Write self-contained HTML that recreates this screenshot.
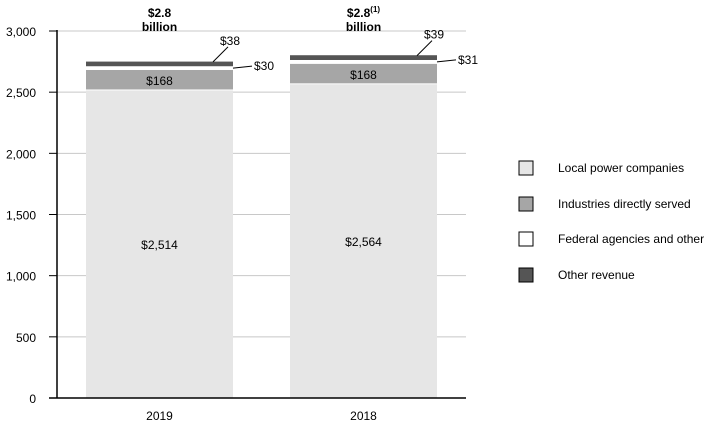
<!DOCTYPE html>
<html><head><meta charset="utf-8"><style>
body{margin:0;background:#fff;}
svg text{font-family:"Liberation Sans",Arial,sans-serif;fill:#000;}
</style></head><body>
<svg width="718" height="427" viewBox="0 0 718 427">
<g id="grid"></g><g id="bars"></g><g id="labels"></g>
<line x1="57" y1="30" x2="57" y2="398" stroke="#000" stroke-width="1.5"/>
<line x1="49" y1="398" x2="466" y2="398" stroke="#000" stroke-width="1.5"/>
<g>
<g><rect x="519" y="161" width="14" height="14" fill="#e6e6e6" stroke="#000"/><text x="558" y="172" font-size="12">Local power companies</text></g>
<g><rect x="519" y="197" width="14" height="14" fill="#a6a6a6" stroke="#000"/><text x="558" y="208" font-size="12">Industries directly served</text></g>
<g><rect x="519" y="232" width="14" height="14" fill="#fff" stroke="#000"/><text x="558" y="243" font-size="12">Federal agencies and other</text></g>
<g><rect x="519" y="268" width="14" height="14" fill="#555" stroke="#000"/><text x="558" y="279" font-size="12">Other revenue</text></g>
</g>
</svg>
<script>
const categories=["2019","2018"];
const localPower=[2514,2564];
const industries=[168,168];
const federal=[30,31];
const other=[38,39];
const yTicks=[0,500,1000,1500,2000,2500,3000];
const tickLabels=["0","500","1,000","1,500","2,000","2,500","3,000"];
const totals=["$2.8","$2.8"];
const NS="http://www.w3.org/2000/svg";
const y=v=>398-v*367/3000;
const barX=i=>86+i*204, barW=147;
function mk(tag,attrs,parent,txt){const e=document.createElementNS(NS,tag);for(const k in attrs)e.setAttribute(k,attrs[k]);if(txt!==undefined)e.textContent=txt;parent.appendChild(e);return e;}
const grid=document.getElementById('grid'),bars=document.getElementById('bars'),labels=document.getElementById('labels');
yTicks.forEach((t,i)=>{
 if(t>0){const g=mk('line',{x1:57,x2:466,y1:y(t),y2:y(t),stroke:'#c8c8c8'},grid);
 
 }
 const tk=mk('line',{x1:49,x2:57,y1:y(t),y2:y(t),stroke:'#000'},grid);
 
 
 const l=mk('text',{x:36,y:y(t)+5,'font-size':12,'text-anchor':'end'},grid,tickLabels[i]);
 
 
});
const series=[[localPower,'#e6e6e6','bar-local-power',0],[industries,'#a6a6a6','bar-industries',1],[federal,'#ffffff','bar-federal',0],[other,'#555555','bar-other',0]];
categories.forEach((c,i)=>{
 let base=0;const x=barX(i),cx=x+barW/2;
 series.forEach(([arr,col,name,gap])=>{
  const top=base+arr[i];
  const r=mk('rect',{x:x,y:y(top),width:barW,height:Math.max(0,y(base)-y(top)-gap),fill:col},bars);
  
  
  base=top;
 });
 const t1=mk('text',{x:cx,y:y(localPower[i]/2)+5,'font-size':12,'text-anchor':'middle'},labels,'$'+localPower[i].toLocaleString('en-US'));
 
 
 const t2=mk('text',{x:cx,y:y(localPower[i]+industries[i]/2)+5,'font-size':12,'text-anchor':'middle'},labels,'$'+industries[i]);
 
 
 const fy=y(localPower[i]+industries[i]+federal[i]/2);
 mk('line',{x1:x+barW,y1:fy,x2:x+barW+19,y2:fy-2,stroke:'#000'},labels);
 const t3=mk('text',{x:x+barW+21,y:fy+2,'font-size':12},labels,'$'+federal[i]);
 
 
 const tot=localPower[i]+industries[i]+federal[i]+other[i];
 const oy=y(tot-other[i]/2);
 mk('line',{x1:x+127,y1:oy-2,x2:x+142,y2:oy-17,stroke:'#000'},labels);
 const t4=mk('text',{x:x+144,y:oy-19,'font-size':12,'text-anchor':'middle'},labels,'$'+other[i]);
 
 
 const tt=mk('text',{x:cx,y:17,'font-size':12,'font-weight':'bold','text-anchor':'middle'},labels,totals[i]);
 
 
 if(i===1){mk('tspan',{'font-size':8,dy:-5},tt,'(1)');}
 const tb=mk('text',{x:cx,y:31,'font-size':12,'font-weight':'bold','text-anchor':'middle'},labels,'billion');
 
 
 const xl=mk('text',{x:cx,y:420,'font-size':12,'text-anchor':'middle'},labels,c);
 
 
});
</script>
</body></html>
